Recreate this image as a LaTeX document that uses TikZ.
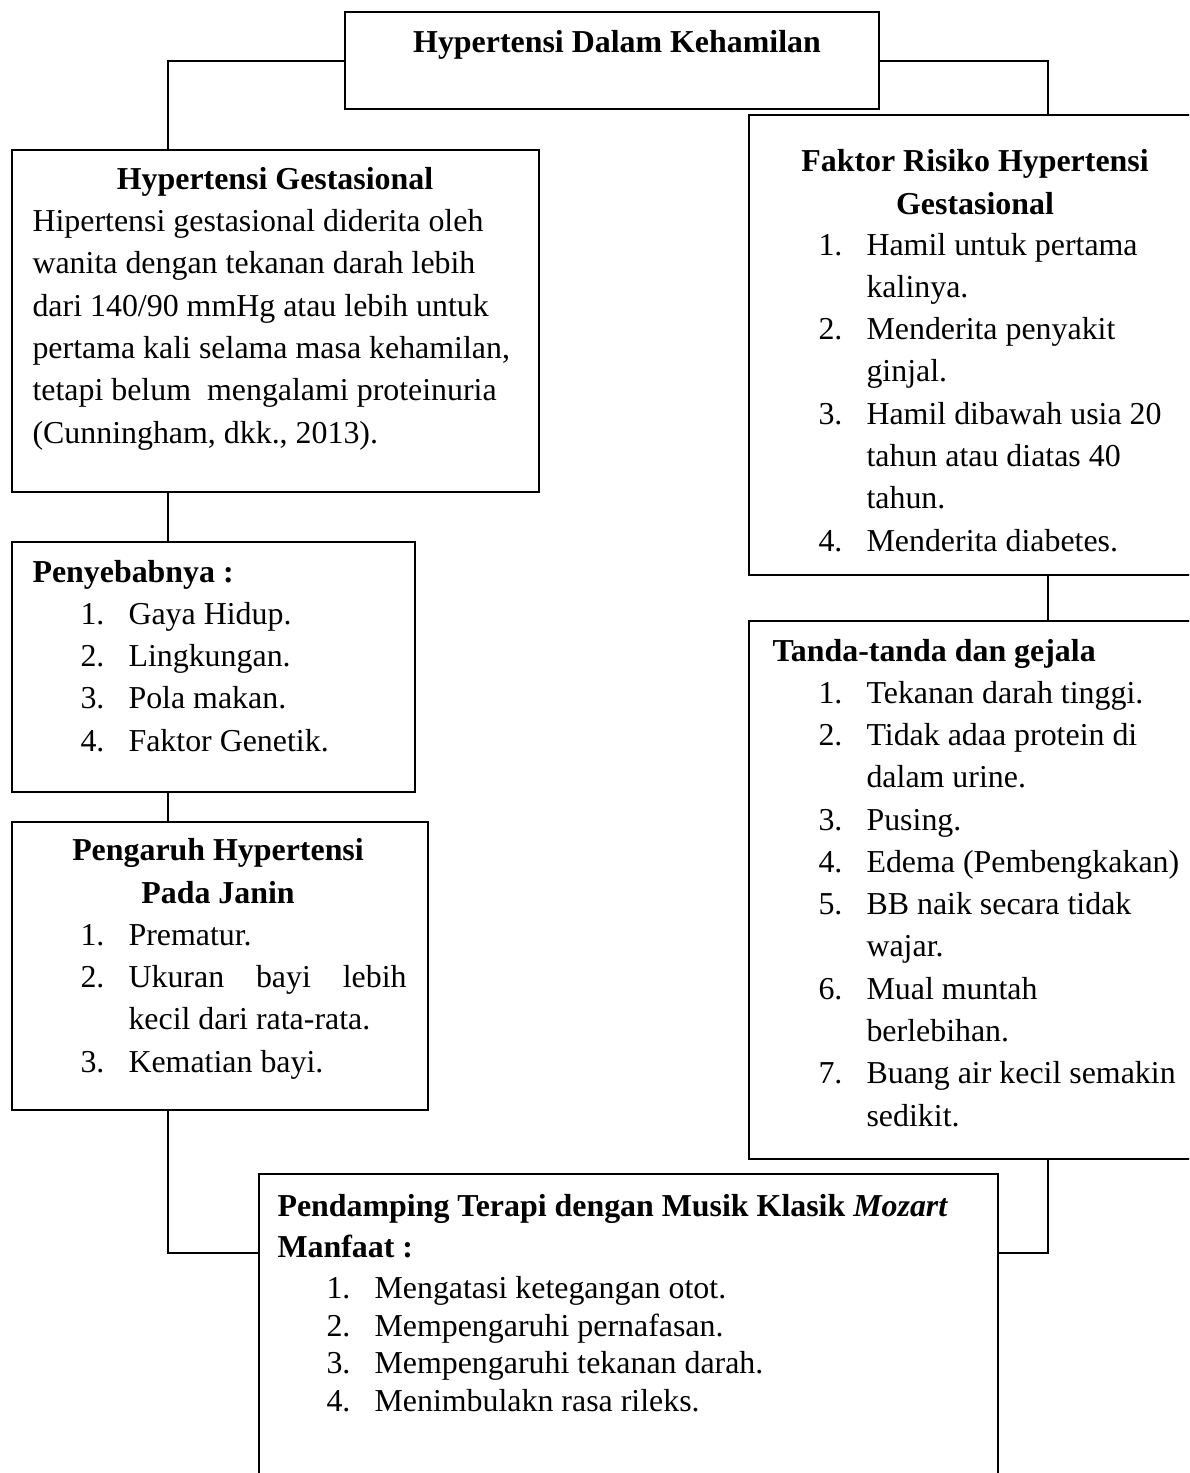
\documentclass[tikz,border=0pt]{standalone}
\usepackage{fontspec}
\setmainfont{Liberation Serif}
\usetikzlibrary{calc}
\def\upx{0.3762pt}
\newcommand{\lnum}[1]{\makebox[18.06pt][l]{#1}}
\newcommand{\lcont}{\hspace*{18.06pt}}

\begin{document}
\begin{tikzpicture}[x=\upx,y=-\upx,box/.style={draw,line width=0.8pt,inner sep=0pt,anchor=north west},txt/.style={inner sep=0pt,anchor=base west,align=left,font=\fontsize{12pt}{15.9pt}\selectfont},ttl/.style={txt,anchor=base,align=center,font=\fontsize{12pt}{15.9pt}\selectfont\bfseries},link/.style={line width=0.8pt}]
\def\lx{168};
\def\rx{1048};

\clip (0,0) rectangle (1189,1473);

\coordinate (lx) at (\lx,0);
\coordinate (rx) at (\rx,0);
\coordinate (jy) at (0,1253);

\node[box,minimum width=534*\upx,minimum height=97*\upx] (top) at (344,11) {};
\node[ttl] (toptxt) at (617,52) {Hypertensi Dalam Kehamilan};

\node[box,minimum width=527*\upx,minimum height=342*\upx] (gest) at (11,149) {};
\node[ttl] (gestttl) at (275,189) {Hypertensi Gestasional};
\node[txt] (gesttxt) at (32,443) {Hipertensi gestasional diderita oleh\\
wanita dengan tekanan darah lebih\\
dari 140/90 mmHg atau lebih untuk\\
pertama kali selama masa kehamilan,\\
tetapi belum\ \ mengalami proteinuria\\
(Cunningham, dkk., 2013).};

\node[box,minimum width=403*\upx,minimum height=250*\upx] (sebab) at (11,541) {};
\node[txt,font=\fontsize{12pt}{15.9pt}\selectfont\bfseries] (sebabttl) at (32,582) {Penyebabnya :};
\node[txt] (sebabtxt) at (80,751) {\lnum{1.}Gaya Hidup.\\
\lnum{2.}Lingkungan.\\
\lnum{3.}Pola makan.\\
\lnum{4.}Faktor Genetik.};

\node[box,minimum width=416*\upx,minimum height=288*\upx] (janin) at (11,821) {};
\node[ttl] (janinttl) at (218,903) {Pengaruh Hypertensi\\ Pada Janin};
\node[txt] (janintxt) at (80,1072) {\lnum{1.}Prematur.\\
\lnum{2.}\makebox[104.6pt][s]{Ukuran\hfill bayi\hfill lebih}\\
\lcont kecil dari rata-rata.\\
\lnum{3.}Kematian bayi.};

\node[box,minimum width=502*\upx,minimum height=460*\upx] (faktor) at (748,114) {};
\node[ttl] (faktorttl) at (975,214) {Faktor Risiko Hypertensi\\ Gestasional};
\node[txt] (faktortxt) at (818,551) {\lnum{1.}Hamil untuk pertama\\
\lcont kalinya.\\
\lnum{2.}Menderita penyakit\\
\lcont ginjal.\\
\lnum{3.}Hamil dibawah usia 20\\
\lcont tahun atau diatas 40\\
\lcont tahun.\\
\lnum{4.}Menderita diabetes.};

\node[box,minimum width=502*\upx,minimum height=538*\upx] (tanda) at (748,620) {};
\node[txt,font=\fontsize{12pt}{15.9pt}\selectfont\bfseries] (tandattl) at (772,661) {Tanda-tanda dan gejala};
\node[txt] (tandatxt) at (818,1126) {\lnum{1.}Tekanan darah tinggi.\\
\lnum{2.}Tidak adaa protein di\\
\lcont dalam urine.\\
\lnum{3.}Pusing.\\
\lnum{4.}Edema (Pembengkakan)\\
\lnum{5.}BB naik secara tidak\\
\lcont wajar.\\
\lnum{6.}Mual muntah\\
\lcont berlebihan.\\
\lnum{7.}Buang air kecil semakin\\
\lcont sedikit.};

\node[box,minimum width=739*\upx,minimum height=400*\upx] (terapi) at (258,1173) {};
\node[txt,font=\fontsize{12pt}{15.4pt}\selectfont\bfseries] (terapittl) at (277,1257) {Pendamping Terapi dengan Musik Klasik \textit{Mozart}\\ Manfaat :};
\node[txt,font=\fontsize{12pt}{14.1pt}\selectfont] (terapitxt) at (326,1411) {\lnum{1.}Mengatasi ketegangan otot.\\
\lnum{2.}Mempengaruhi pernafasan.\\
\lnum{3.}Mempengaruhi tekanan darah.\\
\lnum{4.}Menimbulakn rasa rileks.};

\draw[link] (top.west) -| (lx |- gest.north);
\draw[link] (top.east) -| (rx |- faktor.north);
\draw[link] (lx |- gest.south) -- (lx |- sebab.north);
\draw[link] (lx |- sebab.south) -- (lx |- janin.north);
\draw[link] (lx |- janin.south) |- (terapi.west |- jy);
\draw[link] (rx |- faktor.south) -- (rx |- tanda.north);
\draw[link] (rx |- tanda.south) |- (terapi.east |- jy);
\end{tikzpicture}
\end{document}
